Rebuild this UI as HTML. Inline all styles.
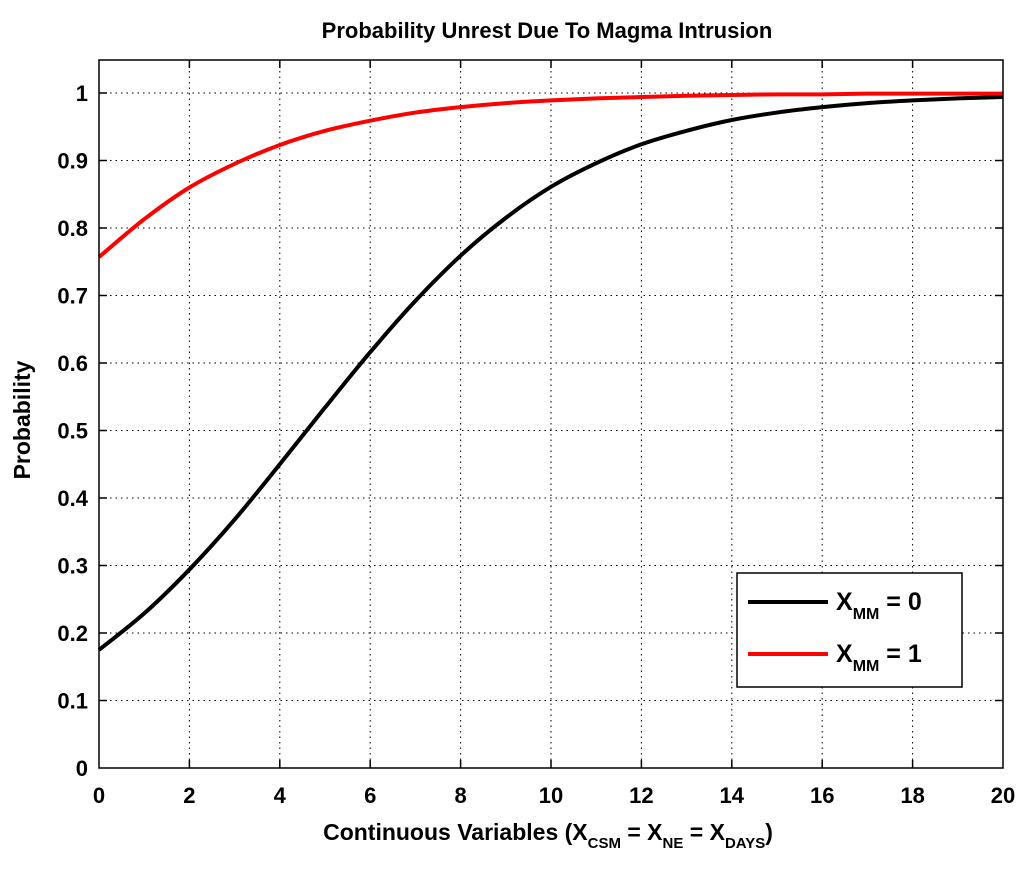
<!DOCTYPE html>
<html><head><meta charset="utf-8"><style>
body{margin:0;background:#fff;}
svg text{font-family:"Liberation Sans",sans-serif;font-weight:bold;fill:#000;}
</style></head><body>
<svg id="chart" width="1024" height="865">
<text x="547" y="38" font-size="22" text-anchor="middle">Probability Unrest Due To Magma Intrusion</text>
<g id="grid"></g>
<g id="ticks"></g>
<g id="series"></g>
<rect x="99" y="60" width="904" height="708" fill="none" stroke="#000" stroke-width="1.5"/>
<text x="30" y="420" font-size="23" text-anchor="middle" transform="rotate(-90 30 420)">Probability</text>
<text x="548" y="840" font-size="23" text-anchor="middle">Continuous Variables (X<tspan font-size="15" dy="8">CSM</tspan><tspan dy="-8"> = X</tspan><tspan font-size="15" dy="8">NE</tspan><tspan dy="-8"> = X</tspan><tspan font-size="15" dy="8">DAYS</tspan><tspan dy="-8">)</tspan></text>
<g>
<rect x="737" y="573" width="225" height="114" fill="#fff" stroke="#000" stroke-width="1.5"/>
<line x1="748" y1="602" x2="828" y2="602" stroke="#000" stroke-width="4"/>
<text x="836" y="610" font-size="25">X<tspan font-size="16" dy="9">MM</tspan><tspan dy="-9"> = 0</tspan></text>
<line x1="748" y1="654" x2="828" y2="654" stroke="#f00" stroke-width="4"/>
<text x="836" y="662" font-size="25">X<tspan font-size="16" dy="9">MM</tspan><tspan dy="-9"> = 1</tspan></text>
</g>
</svg>
<script>
const xValues=[0,1,2,3,4,5,6,7,8,9,10,11,12,13,14,15,16,17,18,19,20];
const blackSeries=[.175,.229,.294,.368,.450,.534,.616,.692,.759,.815,.861,.896,.924,.944,.960,.971,.979,.985,.989,.992,.994];
const redSeries=[.757,.813,.860,.895,.923,.944,.959,.971,.979,.985,.989,.992,.994,.996,.997,.998,.998,.999,.999,.999,.999];
const xTicks=[0,2,4,6,8,10,12,14,16,18,20];
const yTicks=[0,0.1,0.2,0.3,0.4,0.5,0.6,0.7,0.8,0.9,1];
const NS='http://www.w3.org/2000/svg';
const X0=99,X1=1003,Y0=768,Y1=93,YT=60;
const sx=v=>X0+(v-0)/20*(X1-X0);
const sy=v=>Y0-v*(Y0-Y1);
function mk(tag,attrs,parent){const e=document.createElementNS(NS,tag);for(const k in attrs)e.setAttribute(k,attrs[k]);parent.appendChild(e);return e;}
const grid=document.getElementById('grid'),ticks=document.getElementById('ticks'),series=document.getElementById('series');
xTicks.forEach(t=>{
 if(t>0&&t<20){const l=mk('line',{x1:sx(t),x2:sx(t),y1:YT,y2:Y0,stroke:'#000','stroke-width':1,'stroke-dasharray':'1.5,4'},grid);
 
 
 const m1=mk('line',{x1:sx(t),x2:sx(t),y1:Y0,y2:Y0-8,stroke:'#000','stroke-width':1.5},ticks);
 
 
 const m2=mk('line',{x1:sx(t),x2:sx(t),y1:YT,y2:YT+8,stroke:'#000','stroke-width':1.5},ticks);
 
 }
 const tx=mk('text',{x:sx(t),y:803,'font-size':22,'text-anchor':'middle'},ticks);tx.textContent=t;
 
 
});
yTicks.forEach(t=>{
 if(t>0){const l=mk('line',{x1:X0,x2:X1,y1:sy(t),y2:sy(t),stroke:'#000','stroke-width':1,'stroke-dasharray':'1.5,4'},grid);
 
 
 const m1=mk('line',{x1:X0,x2:X0+8,y1:sy(t),y2:sy(t),stroke:'#000','stroke-width':1.5},ticks);
 
 
 const m2=mk('line',{x1:X1-8,x2:X1,y1:sy(t),y2:sy(t),stroke:'#000','stroke-width':1.5},ticks);
 
 }
 const tx=mk('text',{x:88,y:sy(t)+8,'font-size':22,'text-anchor':'end'},ticks);tx.textContent=String(t);
 
 
});
function path(vals){
 const p=xValues.map((x,i)=>[sx(x),sy(vals[i])]);
 let d='M'+p[0][0]+','+p[0][1];
 for(let i=0;i<p.length-1;i++){
  const a=p[i-1]||p[i],b=p[i],c=p[i+1],e=p[i+2]||c;
  d+=' C'+(b[0]+(c[0]-a[0])/6)+','+(b[1]+(c[1]-a[1])/6)+' '+(c[0]-(e[0]-b[0])/6)+','+(c[1]-(e[1]-b[1])/6)+' '+c[0]+','+c[1];
 }
 return d;
}
const pb=mk('path',{d:path(blackSeries),fill:'none',stroke:'#000','stroke-width':4},series);


const pr=mk('path',{d:path(redSeries),fill:'none',stroke:'#f00','stroke-width':4},series);


</script>
</body></html>
